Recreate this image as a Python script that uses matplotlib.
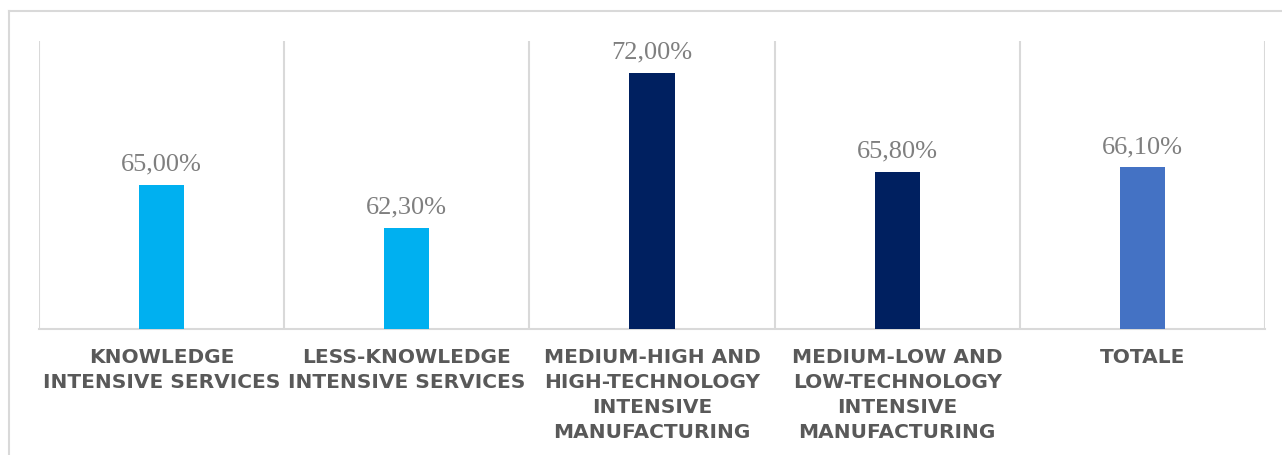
import matplotlib
matplotlib.use("Agg")

import matplotlib.pyplot as plt
from matplotlib.lines import Line2D

categories = [
    "KNOWLEDGE\nINTENSIVE SERVICES",
    "LESS-KNOWLEDGE\nINTENSIVE SERVICES",
    "MEDIUM-HIGH AND\nHIGH-TECHNOLOGY\nINTENSIVE\nMANUFACTURING",
    "MEDIUM-LOW AND\nLOW-TECHNOLOGY\nINTENSIVE\nMANUFACTURING",
    "TOTALE",
]
values = [65.0, 62.3, 72.0, 65.8, 66.1]
colors = ["#00B0F0", "#00B0F0", "#002060", "#002060", "#4472C4"]

GRID = "#D9D9D9"

fig = plt.figure(figsize=(12.82, 4.56), dpi=100)
ax = fig.add_axes([39 / 1282, 1 - 330 / 456, (1265 - 39) / 1282, (330 - 42) / 456])

x = list(range(len(categories)))
bars = ax.bar(x, values, width=0.184, color=colors, zorder=3)

ax.set_xlim(-0.5, len(categories) - 0.5)
ax.set_ylim(56, 74)

# value labels, Excel style with comma decimals
for b, v in zip(bars, values):
    ax.annotate(f"{v:.2f}%".replace(".", ","),
                (b.get_x() + b.get_width() / 2, v),
                xytext=(0, 11), textcoords="offset points",
                ha="center", va="baseline",
                fontsize=19, color="#7F7F7F", family="Liberation Serif")

# category separators
for i in range(len(categories) + 1):
    ax.axvline(i - 0.5, color=GRID, lw=1.5, zorder=1)

for s in ["left", "right", "top"]:
    ax.spines[s].set_visible(False)
ax.spines["bottom"].set_color(GRID)
ax.spines["bottom"].set_linewidth(1.5)

ax.set_yticks([])
ax.set_xticks(x)
ax.set_xticklabels(categories, fontsize=14.5, fontweight="bold",
                   color="#595959", family="DejaVu Sans",
                   linespacing=1.4, multialignment="center")
ax.tick_params(axis="x", length=0, pad=13)

# outer chart frame (top and left edges visible in the crop)
fig.add_artist(Line2D([9 / 1282, 1.0], [1 - 12 / 456, 1 - 12 / 456],
                      transform=fig.transFigure, color=GRID, lw=1.5))
fig.add_artist(Line2D([9 / 1282, 9 / 1282], [0.0, 1 - 12 / 456],
                      transform=fig.transFigure, color=GRID, lw=1.5))

fig.savefig("out.png", dpi=100)
